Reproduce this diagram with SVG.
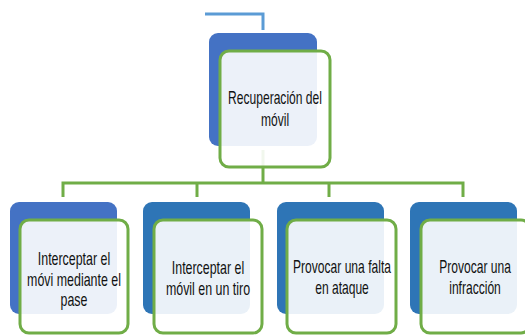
<svg xmlns="http://www.w3.org/2000/svg" width="525" height="335" viewBox="0 0 525 335">
<style>
.bg{fill:#ffffff}
.b1{fill:#4472C4}
.b2{fill:#2E75B6}
.fr{fill:#ffffff;fill-opacity:0.9;stroke:#70AD47;stroke-width:3}
.ln{fill:none;stroke:#70AD47;stroke-width:3}
.t{font-family:"Liberation Sans",Arial,sans-serif;font-size:17.5px;fill:#111111;text-anchor:middle}
</style>
<rect class="bg" x="0" y="0" width="525" height="335"/>
<g id="connectors">
<polyline points="205,14 263,14 263,30" fill="none" stroke="#5B9BD5" stroke-width="3"/>
<polyline class="ln" points="263,150 263,183"/>
<polyline class="ln" points="63,197 63,183 463,183 463,197"/>
<line class="ln" x1="197" y1="183" x2="197" y2="197"/>
<line class="ln" x1="329" y1="183" x2="329" y2="197"/>
</g>
<g id="root">
<rect class="b1" x="209" y="33" width="108" height="113" rx="9"/>
<rect class="fr" x="220" y="51" width="110" height="116" rx="9"/>
<text class="t" transform="translate(275,104) scale(0.69,1)">Recuperación del</text>
<text class="t" transform="translate(275,126) scale(0.69,1)">móvil</text>
</g>
<g id="n1">
<rect class="b1" x="10" y="202" width="107" height="112" rx="9"/>
<rect class="fr" x="20" y="220" width="108" height="113" rx="9"/>
<text class="t" transform="translate(74,265) scale(0.71,1)">Interceptar el</text>
<text class="t" transform="translate(74,286) scale(0.71,1)">móvi mediante el</text>
<text class="t" transform="translate(74,306) scale(0.71,1)">pase</text>
</g>
<g id="n2">
<rect class="b2" x="143" y="202" width="107" height="112" rx="9"/>
<rect class="fr" x="154" y="220" width="108" height="113" rx="9"/>
<text class="t" transform="translate(208,274) scale(0.71,1)">Interceptar el</text>
<text class="t" transform="translate(208,295) scale(0.71,1)">móvil en un tiro</text>
</g>
<g id="n3">
<rect class="b2" x="277" y="202" width="107" height="112" rx="9"/>
<rect class="fr" x="287" y="220" width="109" height="113" rx="9"/>
<text class="t" transform="translate(342,273) scale(0.69,1)">Provocar una falta</text>
<text class="t" transform="translate(342,294) scale(0.69,1)">en ataque</text>
</g>
<g id="n4">
<rect class="b2" x="410" y="202" width="107" height="112" rx="9"/>
<rect class="fr" x="421" y="220" width="109" height="113" rx="9"/>
<text class="t" transform="translate(475,273) scale(0.69,1)">Provocar una</text>
<text class="t" transform="translate(475,294) scale(0.69,1)">infracción</text>
</g>
</svg>
